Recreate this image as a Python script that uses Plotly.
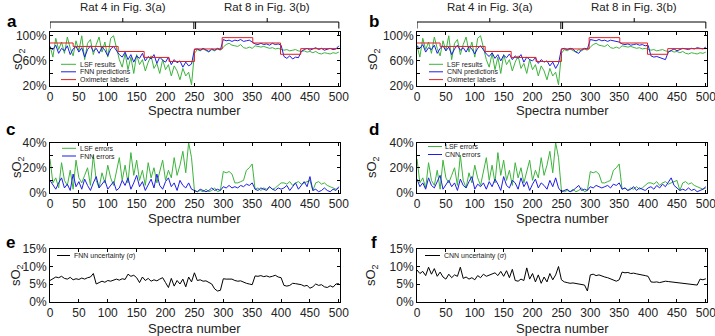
import plotly.graph_objects as go

# ---------------- data (every 5 spectra) ----------------
spectra = list(range(0, 501, 5))

oxi_edges = [0, 40, 118, 163, 206, 250, 298, 351, 399, 434, 500]
oxi_vals = [88.5, 83, 75, 65.5, 59, 79, 97, 88.5, 70.5, 79.5]

fnn_pred = [82, 78, 85, 72, 80, 76, 84, 70, 79, 83, 74, 81, 66, 78, 84, 75, 80, 72, 82, 77, 68, 79, 83, 76,
            70, 66, 74, 62, 70, 58, 68, 64, 72, 60, 67, 63, 70, 56, 66, 61, 58, 66, 54, 62, 57, 60, 50, 58, 52, 55,
            78, 79, 77, 80, 78, 75, 79, 77, 80, 78,
            94, 92, 93, 91, 93, 92, 94, 91, 92, 93, 90,
            87, 86, 88, 86, 87, 85, 88, 86, 87, 85,
            67, 64, 68, 63, 66, 65,
            75, 78, 80, 77, 79, 81, 78, 80, 77, 79, 80, 78, 79, 84]

lsf_result = [84, 66, 96, 78, 90, 72, 98, 80, 68, 92, 76, 100, 62, 88, 94, 70, 86, 98, 74, 90, 66, 96, 100, 80,
              62, 50, 72, 46, 66, 40, 70, 54, 62, 44, 58, 68, 48, 56, 40, 62, 46, 54, 36, 52, 44, 30, 48, 36, 42, 22,
              72, 78, 76, 79, 77, 74, 78, 76, 79, 77,
              82, 86, 88, 85, 84, 83, 86, 81, 80, 82, 80,
              84, 83, 82, 83, 81, 80, 81, 79, 80, 78,
              77, 78, 76, 77, 78, 76,
              75, 76, 74, 75, 73, 75, 72, 71, 73, 72, 71, 73, 72, 74]

cnn_pred = [84, 80, 86, 74, 81, 78, 85, 72, 80, 84, 76, 82, 70, 79, 85, 77, 81, 74, 83, 79, 71, 80, 84, 78,
            71, 67, 73, 64, 70, 60, 69, 65, 71, 62, 68, 64, 70, 58, 66, 62, 60, 65, 56, 62, 58, 60, 52, 58, 48, 56,
            79, 80, 78, 80, 79, 74, 72, 78, 80, 79,
            94, 93, 92, 94, 92, 93, 91, 93, 92, 91, 90,
            87, 86, 87, 85, 86, 87, 85, 86, 84, 85,
            68, 66, 67, 65, 64, 62,
            74, 77, 79, 76, 78, 80, 79, 78, 80, 79, 81, 80, 79, 82]

lsf_err = [27, 8, 12, 4, 24, 10, 6, 18, 3, 26, 12, 8, 14, 20, 6, 30, 10, 4, 16, 8, 22, 12, 6, 18,
           28, 10, 22, 8, 32, 14, 26, 10, 18, 6, 24, 12, 20, 8, 16, 26, 10, 18, 12, 28, 14, 22, 33, 16, 40, 28,
           2, 1, 2, 1, 3, 1, 2, 4, 1, 2,
           17, 16, 17, 15, 8, 8, 9, 10, 18, 20, 23,
           3, 4, 2, 4, 3, 5, 3, 4, 6, 8,
           8, 7, 9, 6, 8, 9, 7, 8, 9, 10,
           2, 8, 9, 7, 8, 6, 5, 4, 3, 4]

fnn_err = [10, 6, 3, 8, 12, 4, 7, 2, 15, 5, 9, 3, 11, 6, 2, 8, 13, 4, 7, 10, 3, 6, 9, 2,
           4, 10, 6, 12, 3, 8, 14, 5, 9, 2, 7, 11, 4, 15, 6, 3, 9, 12, 5, 8, 2, 10, 6, 4, 8, 3,
           2, 1, 3, 2, 1, 2, 4, 2, 3, 2,
           5, 4, 6, 4, 5, 4, 6, 5, 7, 6, 8,
           3, 2, 4, 3, 2, 5, 3, 2, 4, 3,
           4, 6, 2, 5, 8, 3, 6, 9, 5, 13,
           2, 3, 1, 2, 4, 2, 1, 3, 2, 5]

cnn_err = [11, 5, 8, 3, 12, 6, 4, 9, 14, 3, 7, 10, 5, 8, 2, 11, 6, 4, 9, 13, 3, 7, 5, 8,
           3, 9, 5, 11, 7, 2, 13, 6, 4, 10, 8, 3, 12, 5, 9, 2, 7, 11, 4, 8, 6, 3, 10, 5, 12, 4,
           1, 2, 3, 1, 2, 4, 6, 2, 3, 2,
           5, 4, 6, 5, 4, 5, 6, 4, 7, 6, 8,
           3, 4, 2, 3, 5, 2, 4, 3, 2, 4,
           5, 3, 6, 4, 7, 5, 9, 12, 6, 4,
           2, 3, 2, 4, 2, 3, 1, 2, 3, 5]

fnn_unc = [6.0, 6.5, 7.0, 6.8, 7.2, 6.6, 6.4, 6.9, 6.2, 6.5, 6.3, 6.7, 6.4, 6.8, 7.0, 8.0,
           5.0, 5.4, 5.8, 5.5, 6.0, 5.8, 6.2, 6.4, 6.1, 6.5, 6.3,
           7.8, 7.2, 7.5, 6.8,
           5.4, 7.0, 6.0, 6.6, 5.8, 6.2, 5.9, 6.4, 6.8, 5.4, 4.0, 6.6, 4.4, 6.0, 5.0, 6.4, 4.2, 7.0, 5.6, 8.2,
           6.0, 6.2, 5.8, 5.9, 5.5, 5.0,
           3.6, 3.0, 3.2,
           6.5, 6.4, 6.3, 6.4, 6.0, 5.8, 5.9, 5.5, 5.2, 5.0, 4.8,
           7.3, 7.2, 7.4, 7.1, 7.3, 7.0, 7.2, 7.5, 7.0, 6.8,
           4.6, 4.4, 4.6, 5.2,
           5.1, 5.0, 4.8, 4.4, 4.6,
           3.8, 4.2, 5.0, 4.6, 4.8, 4.2, 4.0, 4.5, 4.1, 5.0, 5.1]

cnn_unc = [9.0, 8.0, 8.6, 7.4, 9.8, 7.8, 9.4, 7.2, 8.4, 7.0, 6.4, 7.8, 6.8, 7.6, 7.2, 9.8, 6.6, 7.0, 6.4, 6.8,
           6.2, 7.4, 6.8, 7.8, 7.2, 7.6, 7.8, 8.2, 7.4, 8.6, 7.2, 8.8, 6.8, 9.2, 6.0, 5.8, 6.4, 6.0, 9.6, 6.4,
           8.0, 5.6, 7.6, 5.2, 7.0, 5.6, 8.0, 6.2, 7.6, 10.0,
           6.2, 5.6, 5.4, 5.2, 5.3, 5.1, 5.0, 4.9, 4.7, 3.0,
           7.6, 7.8, 7.4, 7.6, 7.2, 7.0, 6.8, 6.4, 6.0, 5.8, 6.2,
           8.4, 8.2, 8.3, 8.0, 8.1, 7.9, 7.8, 7.6, 7.4, 7.2,
           5.6, 5.5, 5.6, 5.4, 5.6, 5.8, 5.7, 5.6, 5.5, 5.4, 5.4, 5.3, 5.1, 5.0, 4.9, 4.8, 4.7,
           6.4, 6.2, 6.5]

x_ticks = list(range(0, 501, 50))

# ---------------- styling ----------------
FONT = "Liberation Sans, Arial, Helvetica, sans-serif"
GREEN = "#3cb43c"
BLUE = "#1e1ee6"
RED = "#e61e1e"
W, H = 715, 336


def px(x):
    return x / W


def py(y):
    return 1 - y / H


LX = [px(50), px(340)]
RX = [px(417), px(707)]
ROW = {1: [py(86), py(32)], 2: [py(193), py(142.5)], 3: [py(301.5), py(249)]}

fig = go.Figure()

# panel a / b
oxi_y = oxi_vals + [oxi_vals[-1]]
for k, pred in [(1, fnn_pred), (2, cnn_pred)]:
    xa, ya = ("x", "y") if k == 1 else ("x2", "y2")
    fig.add_trace(go.Scatter(x=spectra, y=lsf_result, mode="lines", line=dict(color=GREEN, width=1),
                             xaxis=xa, yaxis=ya, showlegend=False))
    fig.add_trace(go.Scatter(x=spectra, y=pred, mode="lines", line=dict(color=BLUE, width=1),
                             xaxis=xa, yaxis=ya, showlegend=False))
    fig.add_trace(go.Scatter(x=oxi_edges, y=oxi_y, mode="lines", line=dict(color=RED, width=1, shape="hv"),
                             xaxis=xa, yaxis=ya, showlegend=False))

# panel c / d
for k, err in [(3, fnn_err), (4, cnn_err)]:
    fig.add_trace(go.Scatter(x=spectra, y=lsf_err, mode="lines", line=dict(color=GREEN, width=1),
                             xaxis=f"x{k}", yaxis=f"y{k}", showlegend=False))
    fig.add_trace(go.Scatter(x=spectra, y=err, mode="lines", line=dict(color=BLUE, width=1),
                             xaxis=f"x{k}", yaxis=f"y{k}", showlegend=False))

# panel e / f
for k, unc in [(5, fnn_unc), (6, cnn_unc)]:
    fig.add_trace(go.Scatter(x=spectra, y=unc, mode="lines", line=dict(color="black", width=1),
                             xaxis=f"x{k}", yaxis=f"y{k}", showlegend=False))

axis_common = dict(showline=True, linecolor="black", linewidth=1, mirror="ticks", ticks="inside",
                   ticklen=3, tickcolor="black", showgrid=False, zeroline=False, automargin=False,
                   ticklabeloverflow="allow",
                   tickfont=dict(family=FONT, size=12, color="#222222"))

layout = dict(width=W, height=H, margin=dict(l=0, r=0, t=0, b=0, autoexpand=False),
              paper_bgcolor="white", plot_bgcolor="white", showlegend=False,
              font=dict(family=FONT, color="#222222"))

ydefs = {
    1: dict(range=[20, 106], tickvals=[20, 60, 100], ticktext=["20%", "60%", "100%"],
            minor=dict(ticks="inside", ticklen=3, tickcolor="black", tickvals=[40, 80], showgrid=False)),
    2: dict(range=[0, 40], tickvals=[0, 20, 40], ticktext=["0%", "20%", "40%"],
            minor=dict(ticks="inside", ticklen=3, tickcolor="black", tickvals=[10, 30], showgrid=False)),
    3: dict(range=[0, 15], tickvals=[0, 5, 10, 15], ticktext=["0%", "5%", "10%", "15%"]),
}
for k in range(1, 7):
    row = (k + 1) // 2
    dom_x = LX if k % 2 == 1 else RX
    sfx = "" if k == 1 else str(k)
    layout[f"xaxis{sfx}"] = dict(axis_common, domain=dom_x, range=[0, 502], tickvals=x_ticks,
                                 anchor=f"y{sfx}")
    layout[f"yaxis{sfx}"] = dict(axis_common, domain=ROW[row], anchor=f"x{sfx}", **ydefs[row])

fig.update_layout(**layout)

ann = []
shapes = []

# panel letters
for letter, x, y in [("a", 5, 22), ("b", 367, 22), ("c", 4, 129), ("d", 367, 129), ("e", 4, 242), ("f", 369, 242)]:
    ann.append(dict(text=f"<b>{letter}</b>", x=px(x), y=py(y), xref="paper", yref="paper",
                    xanchor="left", yanchor="middle", showarrow=False, font=dict(size=17, family=FONT, color="black")))

# y titles and x titles
for xc, yc in [(18, 59), (373, 59), (17, 167), (372, 167), (16, 275), (371, 275)]:
    ann.append(dict(text="sO<sub>2</sub>", x=px(xc), y=py(yc), xref="paper", yref="paper",
                    textangle=-90, showarrow=False, font=dict(size=13, family=FONT),
                    xanchor="center", yanchor="middle"))
for xc, yc in [(195, 111), (562, 111), (195, 218), (562, 218), (195, 328.5), (562, 328.5)]:
    ann.append(dict(text="Spectra number", x=px(xc), y=py(yc), xref="paper", yref="paper",
                    showarrow=False, font=dict(size=13, family=FONT), xanchor="center", yanchor="middle"))

# brackets above a and b
for xa in ["x", "x2"]:
    ln = dict(type="line", xref=xa, yref="paper", line=dict(color="black", width=1))
    shapes.append(dict(ln, x0=0, x1=500, y0=py(22), y1=py(22)))
    shapes.append(dict(ln, x0=0, x1=0, y0=py(22), y1=py(28.5)))
    shapes.append(dict(ln, x0=500, x1=500, y0=py(22), y1=py(28.5)))
    shapes.append(dict(ln, x0=249, x1=249, y0=py(22), y1=py(29)))
    shapes.append(dict(ln, x0=252, x1=252, y0=py(22), y1=py(29)))
    shapes.append(dict(ln, x0=126, x1=126, y0=py(22), y1=py(18)))
    shapes.append(dict(ln, x0=376, x1=376, y0=py(22), y1=py(18)))
    for xs, t in [(126, "Rat 4 in Fig. 3(a)"), (376, "Rat 8 in Fig. 3(b)")]:
        ann.append(dict(text=t, x=xs, y=py(7), xref=xa, yref="paper", showarrow=False,
                        font=dict(size=11.5, family=FONT), xanchor="center", yanchor="middle"))

# in-plot legends
legend_rows = [
    (61, 76, [(64.3, GREEN, "LSF results"), (71.8, BLUE, "FNN predictions"), (79.6, RED, "Oximeter labels")]),
    (429, 443, [(64.3, GREEN, "LSF results"), (71.8, BLUE, "CNN predictions"), (79.6, RED, "Oximeter labels")]),
    (62, 76, [(148.3, GREEN, "LSF errors"), (156, BLUE, "FNN errors")]),
    (428, 442, [(146.5, GREEN, "LSF errors"), (154.5, BLUE, "CNN errors")]),
    (57, 70, [(255.5, "black", "FNN uncertainty (<i>σ</i>)")]),
    (425, 440, [(255.5, "black", "CNN uncertainty (<i>σ</i>)")]),
]
for x0, x1, rows in legend_rows:
    for yy, col, txt in rows:
        shapes.append(dict(type="line", xref="paper", yref="paper", x0=px(x0), x1=px(x1),
                           y0=py(yy), y1=py(yy), line=dict(color=col, width=1)))
        ann.append(dict(text=txt, x=px(x1 + 1.5), y=py(yy), xref="paper", yref="paper", showarrow=False,
                        font=dict(size=7, family=FONT), xanchor="left", yanchor="middle"))

fig.update_layout(annotations=ann, shapes=shapes)
fig.write_html("out.html", config={"displayModeBar": False},
               post_script="document.body.style.margin='0';document.body.style.overflow='hidden';")
